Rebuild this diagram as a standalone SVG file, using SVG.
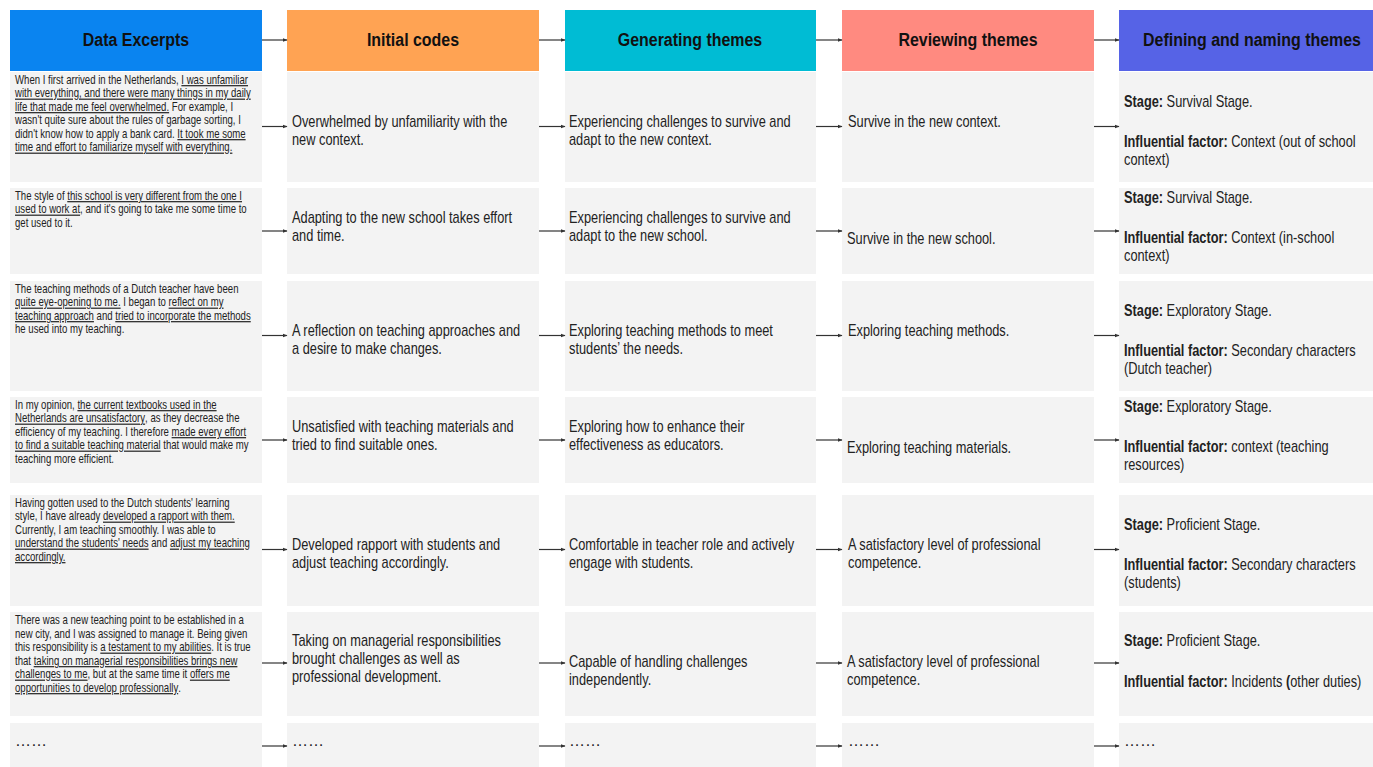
<svg xmlns="http://www.w3.org/2000/svg" width="1373" height="767" viewBox="0 0 1373 767">
<style>
text{font-family:"Liberation Sans",Arial,sans-serif;fill:#222}
.hd{font-size:19px;font-weight:bold;text-anchor:middle;fill:#111}
.cell{fill:#f3f3f3}
.ex{font-size:12px}
.tx{font-size:16px}
.dots{font-size:16px}
.u{text-decoration:underline}
.b{font-weight:bold}
.ar{stroke:#333;stroke-width:1.2;fill:none;marker-end:url(#ah)}
</style>
<defs>
<marker id="ah" markerWidth="5" markerHeight="5" refX="4.5" refY="2.5" orient="auto" markerUnits="userSpaceOnUse">
<path d="M0,0.5 L5,2.5 L0,4.5 z" fill="#333"/>
</marker>
</defs>
<rect width="1373" height="767" fill="#fff"/>

<g id="headers">
<g id="h1"><rect x="10" y="10" width="252" height="61" fill="#0a84f0"/><g transform="translate(136,0) scale(0.84,1)"><text class="hd" x="0" y="46">Data Excerpts</text></g></g>
<g id="h2"><rect x="287" y="10" width="252" height="61" fill="#ffa353"/><g transform="translate(413,0) scale(0.84,1)"><text class="hd" x="0" y="46">Initial codes</text></g></g>
<g id="h3"><rect x="565" y="10" width="251" height="61" fill="#00bcd4"/><g transform="translate(690,0) scale(0.84,1)"><text class="hd" x="0" y="46">Generating themes</text></g></g>
<g id="h4"><rect x="842" y="10" width="252" height="61" fill="#ff8a80"/><g transform="translate(968,0) scale(0.84,1)"><text class="hd" x="0" y="46">Reviewing themes</text></g></g>
<g id="h5"><rect x="1119" y="10" width="254" height="61" fill="#5663e6"/><g transform="translate(1252,0) scale(0.84,1)"><text class="hd" x="0" y="46">Defining and naming themes</text></g></g>
</g>

<g id="row1">
<g id="r1c1"><rect class="cell" x="10" y="72" width="252" height="110"/>
<g transform="translate(15,0) scale(0.8,1)">
<text class="ex" x="0" y="84">When I first arrived in the Netherlands, <tspan class="u">I was unfamiliar</tspan></text>
<text class="ex" x="0" y="97.5"><tspan class="u">with everything, and there were many things in my daily</tspan></text>
<text class="ex" x="0" y="111"><tspan class="u">life that made me feel overwhelmed.</tspan> For example, I</text>
<text class="ex" x="0" y="124.5">wasn't quite sure about the rules of garbage sorting, I</text>
<text class="ex" x="0" y="138">didn't know how to apply a bank card. <tspan class="u">It took me some</tspan></text>
<text class="ex" x="0" y="151.5"><tspan class="u">time and effort to familiarize myself with everything.</tspan></text>
</g></g>
<g id="r1c2"><rect class="cell" x="287" y="72" width="252" height="110"/>
<g transform="translate(292,0) scale(0.8,1)">
<text class="tx" x="0" y="127.5">Overwhelmed by unfamiliarity with the</text>
<text class="tx" x="0" y="145.5">new context.</text></g></g>
<g id="r1c3"><rect class="cell" x="565" y="72" width="251" height="110"/>
<g transform="translate(569,0) scale(0.8,1)">
<text class="tx" x="0" y="127.5">Experiencing challenges to survive and</text>
<text class="tx" x="0" y="145.5">adapt to the new context.</text></g></g>
<g id="r1c4"><rect class="cell" x="842" y="72" width="252" height="110"/>
<g transform="translate(848,0) scale(0.8,1)">
<text class="tx" x="0" y="127.5">Survive in the new context.</text></g></g>
<g id="r1c5"><rect class="cell" x="1119" y="72" width="254" height="110"/>
<g transform="translate(1124,0) scale(0.8,1)">
<text class="tx" x="0" y="107.5"><tspan class="b">Stage:</tspan> Survival Stage.</text>
<text class="tx" x="0" y="147.5"><tspan class="b">Influential factor:</tspan> Context (out of school</text>
<text class="tx" x="0" y="165.5">context)</text></g></g>
</g>

<g id="row2">
<g id="r2c1"><rect class="cell" x="10" y="188" width="252" height="86"/>
<g transform="translate(15,0) scale(0.8,1)">
<text class="ex" x="0" y="200">The style of <tspan class="u">this school is very different from the one I</tspan></text>
<text class="ex" x="0" y="213.5"><tspan class="u">used to work at</tspan>, and it's going to take me some time to</text>
<text class="ex" x="0" y="227">get used to it.</text></g></g>
<g id="r2c2"><rect class="cell" x="287" y="188" width="252" height="86"/>
<g transform="translate(292,0) scale(0.8,1)">
<text class="tx" x="0" y="223.5">Adapting to the new school takes effort</text>
<text class="tx" x="0" y="241.5">and time.</text></g></g>
<g id="r2c3"><rect class="cell" x="565" y="188" width="251" height="86"/>
<g transform="translate(569,0) scale(0.8,1)">
<text class="tx" x="0" y="223.5">Experiencing challenges to survive and</text>
<text class="tx" x="0" y="241.5">adapt to the new school.</text></g></g>
<g id="r2c4"><rect class="cell" x="842" y="188" width="252" height="86"/>
<g transform="translate(847,0) scale(0.8,1)">
<text class="tx" x="0" y="244.5">Survive in the new school.</text></g></g>
<g id="r2c5"><rect class="cell" x="1119" y="188" width="254" height="86"/>
<g transform="translate(1124,0) scale(0.8,1)">
<text class="tx" x="0" y="203.5"><tspan class="b">Stage:</tspan> Survival Stage.</text>
<text class="tx" x="0" y="243.5"><tspan class="b">Influential factor:</tspan> Context (in-school</text>
<text class="tx" x="0" y="261.5">context)</text></g></g>
</g>

<g id="row3">
<g id="r3c1"><rect class="cell" x="10" y="281" width="252" height="110"/>
<g transform="translate(15,0) scale(0.8,1)">
<text class="ex" x="0" y="293">The teaching methods of a Dutch teacher have been</text>
<text class="ex" x="0" y="306.5"><tspan class="u">quite eye-opening to me.</tspan> I began to <tspan class="u">reflect on my</tspan></text>
<text class="ex" x="0" y="320"><tspan class="u">teaching approach</tspan> and <tspan class="u">tried to incorporate the methods</tspan></text>
<text class="ex" x="0" y="333.5">he used into my teaching.</text></g></g>
<g id="r3c2"><rect class="cell" x="287" y="281" width="252" height="110"/>
<g transform="translate(292,0) scale(0.8,1)">
<text class="tx" x="0" y="336.5">A reflection on teaching approaches and</text>
<text class="tx" x="0" y="354.5">a desire to make changes.</text></g></g>
<g id="r3c3"><rect class="cell" x="565" y="281" width="251" height="110"/>
<g transform="translate(569,0) scale(0.8,1)">
<text class="tx" x="0" y="336.5">Exploring teaching methods to meet</text>
<text class="tx" x="0" y="354.5">students’ the needs.</text></g></g>
<g id="r3c4"><rect class="cell" x="842" y="281" width="252" height="110"/>
<g transform="translate(848,0) scale(0.8,1)">
<text class="tx" x="0" y="336.5">Exploring teaching methods.</text></g></g>
<g id="r3c5"><rect class="cell" x="1119" y="281" width="254" height="110"/>
<g transform="translate(1124,0) scale(0.8,1)">
<text class="tx" x="0" y="316.5"><tspan class="b">Stage:</tspan> Exploratory Stage.</text>
<text class="tx" x="0" y="356.5"><tspan class="b">Influential factor:</tspan> Secondary characters</text>
<text class="tx" x="0" y="374.5">(Dutch teacher)</text></g></g>
</g>

<g id="row4">
<g id="r4c1"><rect class="cell" x="10" y="397" width="252" height="86"/>
<g transform="translate(15,0) scale(0.8,1)">
<text class="ex" x="0" y="409">In my opinion, <tspan class="u">the current textbooks used in the</tspan></text>
<text class="ex" x="0" y="422.5"><tspan class="u">Netherlands are unsatisfactory</tspan>, as they decrease the</text>
<text class="ex" x="0" y="436">efficiency of my teaching. I therefore <tspan class="u">made every effort</tspan></text>
<text class="ex" x="0" y="449.5"><tspan class="u">to find a suitable teaching material</tspan> that would make my</text>
<text class="ex" x="0" y="463">teaching more efficient.</text></g></g>
<g id="r4c2"><rect class="cell" x="287" y="397" width="252" height="86"/>
<g transform="translate(292,0) scale(0.8,1)">
<text class="tx" x="0" y="432.5">Unsatisfied with teaching materials and</text>
<text class="tx" x="0" y="450.5">tried to find suitable ones.</text></g></g>
<g id="r4c3"><rect class="cell" x="565" y="397" width="251" height="86"/>
<g transform="translate(569,0) scale(0.8,1)">
<text class="tx" x="0" y="432.5">Exploring how to enhance their</text>
<text class="tx" x="0" y="450.5">effectiveness as educators.</text></g></g>
<g id="r4c4"><rect class="cell" x="842" y="397" width="252" height="86"/>
<g transform="translate(847,0) scale(0.8,1)">
<text class="tx" x="0" y="453.5">Exploring teaching materials.</text></g></g>
<g id="r4c5"><rect class="cell" x="1119" y="397" width="254" height="86"/>
<g transform="translate(1124,0) scale(0.8,1)">
<text class="tx" x="0" y="412.5"><tspan class="b">Stage:</tspan> Exploratory Stage.</text>
<text class="tx" x="0" y="452.5"><tspan class="b">Influential factor:</tspan> context (teaching</text>
<text class="tx" x="0" y="470.5">resources)</text></g></g>
</g>

<g id="row5">
<g id="r5c1"><rect class="cell" x="10" y="495" width="252" height="111"/>
<g transform="translate(15,0) scale(0.8,1)">
<text class="ex" x="0" y="507">Having gotten used to the Dutch students' learning</text>
<text class="ex" x="0" y="520.5">style, I have already <tspan class="u">developed a rapport with them.</tspan></text>
<text class="ex" x="0" y="534">Currently, I am teaching smoothly. I was able to</text>
<text class="ex" x="0" y="547.5"><tspan class="u">understand the students' needs</tspan> and <tspan class="u">adjust my teaching</tspan></text>
<text class="ex" x="0" y="561"><tspan class="u">accordingly.</tspan></text></g></g>
<g id="r5c2"><rect class="cell" x="287" y="495" width="252" height="111"/>
<g transform="translate(292,0) scale(0.8,1)">
<text class="tx" x="0" y="550.5">Developed rapport with students and</text>
<text class="tx" x="0" y="568.5">adjust teaching accordingly.</text></g></g>
<g id="r5c3"><rect class="cell" x="565" y="495" width="251" height="111"/>
<g transform="translate(569,0) scale(0.8,1)">
<text class="tx" x="0" y="550.5">Comfortable in teacher role and actively</text>
<text class="tx" x="0" y="568.5">engage with students.</text></g></g>
<g id="r5c4"><rect class="cell" x="842" y="495" width="252" height="111"/>
<g transform="translate(848,0) scale(0.8,1)">
<text class="tx" x="0" y="550.5">A satisfactory level of professional</text>
<text class="tx" x="0" y="568.5">competence.</text></g></g>
<g id="r5c5"><rect class="cell" x="1119" y="495" width="254" height="111"/>
<g transform="translate(1124,0) scale(0.8,1)">
<text class="tx" x="0" y="530.5"><tspan class="b">Stage:</tspan> Proficient Stage.</text>
<text class="tx" x="0" y="570.5"><tspan class="b">Influential factor:</tspan> Secondary characters</text>
<text class="tx" x="0" y="588.5">(students)</text></g></g>
</g>

<g id="row6">
<g id="r6c1"><rect class="cell" x="10" y="612" width="252" height="104"/>
<g transform="translate(15,0) scale(0.8,1)">
<text class="ex" x="0" y="624.5">There was a new teaching point to be established in a</text>
<text class="ex" x="0" y="638">new city, and I was assigned to manage it. Being given</text>
<text class="ex" x="0" y="651.5">this responsibility is <tspan class="u">a testament to my abilities</tspan>. It is true</text>
<text class="ex" x="0" y="665">that <tspan class="u">taking on managerial responsibilities brings new</tspan></text>
<text class="ex" x="0" y="678.5"><tspan class="u">challenges to me</tspan>, but at the same time it <tspan class="u">offers me</tspan></text>
<text class="ex" x="0" y="692"><tspan class="u">opportunities to develop professionally</tspan>.</text></g></g>
<g id="r6c2"><rect class="cell" x="287" y="612" width="252" height="104"/>
<g transform="translate(292,0) scale(0.8,1)">
<text class="tx" x="0" y="646.5">Taking on managerial responsibilities</text>
<text class="tx" x="0" y="664.5">brought challenges as well as</text>
<text class="tx" x="0" y="682.5">professional development.</text></g></g>
<g id="r6c3"><rect class="cell" x="565" y="612" width="251" height="104"/>
<g transform="translate(569,0) scale(0.8,1)">
<text class="tx" x="0" y="667.5">Capable of handling challenges</text>
<text class="tx" x="0" y="685.5">independently.</text></g></g>
<g id="r6c4"><rect class="cell" x="842" y="612" width="252" height="104"/>
<g transform="translate(847,0) scale(0.8,1)">
<text class="tx" x="0" y="667.5">A satisfactory level of professional</text>
<text class="tx" x="0" y="685.5">competence.</text></g></g>
<g id="r6c5"><rect class="cell" x="1119" y="612" width="254" height="104"/>
<g transform="translate(1124,0) scale(0.8,1)">
<text class="tx" x="0" y="646.5"><tspan class="b">Stage:</tspan> Proficient Stage.</text>
<text class="tx" x="0" y="687.5"><tspan class="b">Influential factor:</tspan> Incidents <tspan class="b">(</tspan>other duties)</text></g></g>
</g>

<g id="row7">
<g id="r7c1"><rect class="cell" x="10" y="723" width="252" height="44"/><text class="dots" x="15" y="746">……</text></g>
<g id="r7c2"><rect class="cell" x="287" y="723" width="252" height="44"/><text class="dots" x="292" y="746">……</text></g>
<g id="r7c3"><rect class="cell" x="565" y="723" width="251" height="44"/><text class="dots" x="569" y="746">……</text></g>
<g id="r7c4"><rect class="cell" x="842" y="723" width="252" height="44"/><text class="dots" x="848" y="746">……</text></g>
<g id="r7c5"><rect class="cell" x="1119" y="723" width="254" height="44"/><text class="dots" x="1124" y="746">……</text></g>
</g>

<g id="connectors">
<line class="ar" x1="262" y1="40" x2="287" y2="40"/><line class="ar" x1="539" y1="40" x2="565" y2="40"/><line class="ar" x1="816" y1="40" x2="842" y2="40"/><line class="ar" x1="1094" y1="40" x2="1119" y2="40"/>
<line class="ar" x1="262" y1="126.5" x2="287" y2="126.5"/><line class="ar" x1="539" y1="126.5" x2="565" y2="126.5"/><line class="ar" x1="816" y1="126.5" x2="842" y2="126.5"/><line class="ar" x1="1094" y1="126.5" x2="1119" y2="126.5"/>
<line class="ar" x1="262" y1="231" x2="287" y2="231"/><line class="ar" x1="539" y1="231" x2="565" y2="231"/><line class="ar" x1="816" y1="231" x2="842" y2="231"/><line class="ar" x1="1094" y1="231" x2="1119" y2="231"/>
<line class="ar" x1="262" y1="335.5" x2="287" y2="335.5"/><line class="ar" x1="539" y1="335.5" x2="565" y2="335.5"/><line class="ar" x1="816" y1="335.5" x2="842" y2="335.5"/><line class="ar" x1="1094" y1="335.5" x2="1119" y2="335.5"/>
<line class="ar" x1="262" y1="440" x2="287" y2="440"/><line class="ar" x1="539" y1="440" x2="565" y2="440"/><line class="ar" x1="816" y1="440" x2="842" y2="440"/><line class="ar" x1="1094" y1="440" x2="1119" y2="440"/>
<line class="ar" x1="262" y1="549.5" x2="287" y2="549.5"/><line class="ar" x1="539" y1="549.5" x2="565" y2="549.5"/><line class="ar" x1="816" y1="549.5" x2="842" y2="549.5"/><line class="ar" x1="1094" y1="549.5" x2="1119" y2="549.5"/>
<line class="ar" x1="262" y1="663" x2="287" y2="663"/><line class="ar" x1="539" y1="663" x2="565" y2="663"/><line class="ar" x1="816" y1="663" x2="842" y2="663"/><line class="ar" x1="1094" y1="663" x2="1119" y2="663"/>
<line class="ar" x1="262" y1="746" x2="287" y2="746"/><line class="ar" x1="539" y1="746" x2="565" y2="746"/><line class="ar" x1="816" y1="746" x2="842" y2="746"/><line class="ar" x1="1094" y1="746" x2="1119" y2="746"/>
</g>
</svg>
